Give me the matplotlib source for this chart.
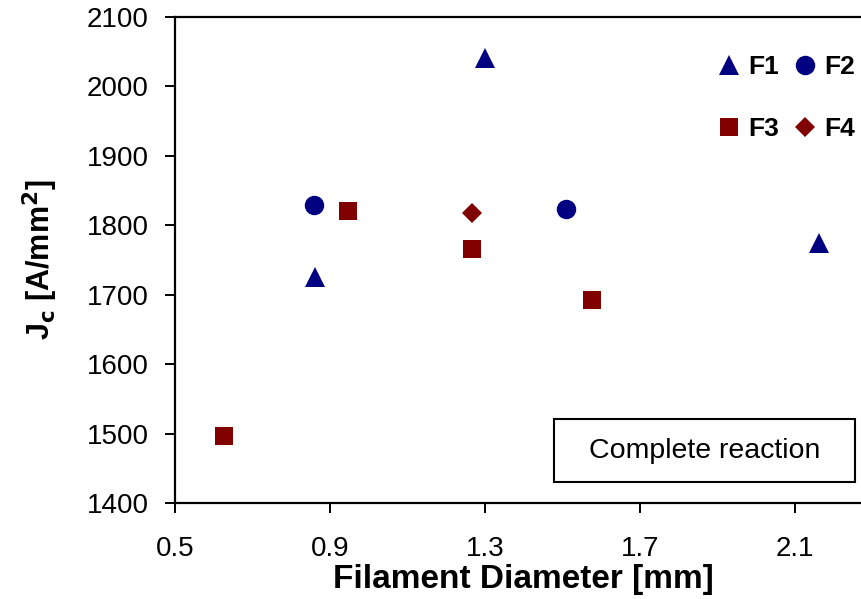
import matplotlib.pyplot as plt
from matplotlib.patches import Rectangle

plt.rcParams['font.family'] = ['Liberation Sans', 'DejaVu Sans']

# data
f1_x = [0.861, 1.300, 2.162]
f1_y = [1725, 2041, 1775]
f2_x = [0.859, 1.509]
f2_y = [1829, 1823]
f3_x = [0.626, 0.946, 1.266, 1.578]
f3_y = [1497, 1821, 1766, 1692]
f4_x = [1.268]
f4_y = [1818]

x_ticks = [0.5, 0.9, 1.3, 1.7, 2.1]
y_ticks = [1400, 1500, 1600, 1700, 1800, 1900, 2000, 2100]

navy = '#000080'
maroon = '#800000'

fig = plt.figure(figsize=(8.62, 5.99), dpi=100)
ax = fig.add_axes([0.2030, 0.1603, 0.8086, 0.8114])

h1, = ax.plot(f1_x, f1_y, '^', color=navy, ms=15, mew=0, label='F1', clip_on=False)
h2, = ax.plot(f2_x, f2_y, 'o', color=navy, ms=14, mew=0, label='F2', clip_on=False)
h3, = ax.plot(f3_x, f3_y, 's', color=maroon, ms=13, mew=0, label='F3', clip_on=False)
h4, = ax.plot(f4_x, f4_y, 'D', color=maroon, ms=10, mew=0, label='F4', clip_on=False)

ax.set_xlim(0.5, 2.3)
ax.set_ylim(1400, 2100)
ax.set_xticks(x_ticks)
ax.set_xticklabels([f'{v:.1f}' for v in x_ticks])
ax.set_yticks(y_ticks)

for s in ax.spines.values():
    s.set_linewidth(1.6)
ax.tick_params(axis='both', direction='out', length=7, width=1.4, labelsize=20)
ax.tick_params(axis='x', pad=17)
ax.tick_params(axis='y', pad=12)

ax.set_xlabel('Filament Diameter [mm]', fontsize=24, fontweight='bold', labelpad=1)
ax.set_ylabel(r'J$_\mathbf{c}$ [A/mm$^\mathbf{2}$]', fontsize=22, fontweight='bold', labelpad=19)

leg = ax.legend(handles=[h1, h3, h2, h4], ncol=2, frameon=False,
                loc='upper left', bbox_to_anchor=(717 / 862, 1 - 55 / 599),
                bbox_transform=fig.transFigure,
                prop={'weight': 'bold', 'size': 19},
                handlelength=0.9, handletextpad=0.3, columnspacing=0.5,
                labelspacing=1.45, borderaxespad=0, borderpad=0)

# boxed note
fig.patches.append(Rectangle((554 / 862, 1 - 482 / 599), 301 / 862, 63 / 599,
                             transform=fig.transFigure, fc='white', ec='black',
                             lw=1.5, zorder=3))
fig.text(705 / 862, 1 - 451 / 599, 'Complete reaction', fontsize=20.5,
         ha='center', va='center', zorder=4)

fig.savefig('out.png', dpi=100)
